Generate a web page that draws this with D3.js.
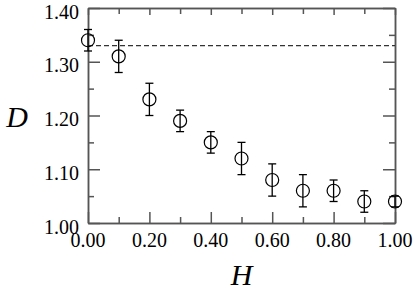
<!DOCTYPE html>
<meta charset="utf-8">
<body style="margin:0">
<script src="https://d3js.org/d3.v7.min.js"></script>
<script>
  // data
  var hValues = [0.0, 0.1, 0.2, 0.3, 0.4, 0.5, 0.6, 0.7, 0.8, 0.9, 1.0];
  var dValues = [1.34, 1.31, 1.23, 1.19, 1.15, 1.12, 1.08, 1.06, 1.06, 1.04, 1.04];
  var dErrors = [0.02, 0.03, 0.03, 0.02, 0.02, 0.03, 0.03, 0.03, 0.02, 0.02, 0.01];
  var refLevel = 1.33;
  var xTicks = [0.0, 0.2, 0.4, 0.6, 0.8, 1.0];
  var yTicks = [1.0, 1.1, 1.2, 1.3, 1.4];

  var fontName = "'Liberation Serif'";
  var fmt = d3.format(".2f");

  var margin = {top: 8, right: 20, bottom: 67, left: 88},
      width = 415 - margin.left - margin.right,
      height = 290 - margin.top - margin.bottom;

  var x = d3.scaleLinear().domain([0, 1]).range([margin.left, margin.left + width]);
  var y = d3.scaleLinear().domain([1.0, 1.4]).range([margin.top + height, margin.top]);

  var root = d3.select("body").append("svg")
      .attr("width", 415)
      .attr("height", 290);

  var xMinor = d3.range(0.1, 1.0, 0.2);
  var yMinor = d3.range(1.05, 1.4, 0.1);

  // frame ticks only; the labels are plain texts further down
  function frameAxis(axis, transform) {
    var g = root.append("g").attr("transform", transform).call(axis.tickFormat(""));
    g.selectAll("line").attr("stroke", "#555").attr("stroke-width", 1.5);
    g.select(".domain").attr("fill", "none").attr("stroke", "#555").attr("stroke-width", 1.5);
    return g;
  }
  var atBottom = "translate(0," + y(1.0) + ")", atTop = "translate(0," + y(1.4) + ")",
      atLeft = "translate(" + x(0) + ",0)", atRight = "translate(" + x(1) + ",0)";
  frameAxis(d3.axisBottom(x).tickValues(xTicks).tickSizeInner(-11).tickSizeOuter(0), atBottom);
  frameAxis(d3.axisBottom(x).tickValues(xMinor).tickSizeInner(-6).tickSizeOuter(0), atBottom);
  frameAxis(d3.axisTop(x).tickValues(xTicks).tickSizeInner(-7).tickSizeOuter(0), atTop);
  frameAxis(d3.axisTop(x).tickValues(xMinor).tickSizeInner(-6).tickSizeOuter(0), atTop);
  frameAxis(d3.axisLeft(y).tickValues(yTicks).tickSizeInner(-12).tickSizeOuter(0), atLeft);
  frameAxis(d3.axisLeft(y).tickValues(yMinor).tickSizeInner(-6).tickSizeOuter(0), atLeft);
  frameAxis(d3.axisRight(y).tickValues(yTicks).tickSizeInner(-12).tickSizeOuter(0), atRight);
  frameAxis(d3.axisRight(y).tickValues(yMinor).tickSizeInner(-6).tickSizeOuter(0), atRight);

  // dashed reference line
  root.append("line")
      .attr("x1", x(0)).attr("x2", x(1))
      .attr("y1", y(refLevel)).attr("y2", y(refLevel))
      .attr("stroke", "#333").attr("stroke-width", 1.2)
      .attr("stroke-dasharray", "5,3");

  var pts = hValues.map(function(h, i) { return {h: h, d: dValues[i], e: dErrors[i]}; });

  var bars = root.selectAll(".err").data(pts).enter().append("g")
      .attr("stroke", "#000").attr("stroke-width", 1.3);
  bars.append("line")
      .attr("x1", function(d) { return x(d.h); }).attr("x2", function(d) { return x(d.h); })
      .attr("y1", function(d) { return y(d.d + d.e); }).attr("y2", function(d) { return y(d.d - d.e); });
  bars.append("line")
      .attr("x1", function(d) { return x(d.h) - 4; }).attr("x2", function(d) { return x(d.h) + 4; })
      .attr("y1", function(d) { return y(d.d + d.e); }).attr("y2", function(d) { return y(d.d + d.e); });
  bars.append("line")
      .attr("x1", function(d) { return x(d.h) - 4; }).attr("x2", function(d) { return x(d.h) + 4; })
      .attr("y1", function(d) { return y(d.d - d.e); }).attr("y2", function(d) { return y(d.d - d.e); });

  root.selectAll(".pt").data(pts).enter().append("circle")
      .attr("cx", function(d) { return x(d.h); })
      .attr("cy", function(d) { return y(d.d); })
      .attr("r", 6.5)
      .attr("fill", "none")
      .attr("stroke", "#000").attr("stroke-width", 1.2);

  // text straight on the svg root, anchored by measuring its length
  function label(str, px, py, size, italic, anchor) {
    var t = root.append("text")
        .attr("x", px).attr("y", py)
        .attr("font-size", size)
        .style("font-family", fontName)
        .text(str);
    if (italic) t.style("font-style", "italic");
    var w = t.node().getComputedTextLength();
    if (anchor === "middle") t.attr("x", px - w / 2);
    if (anchor === "end") t.attr("x", px - w);
    return t;
  }

  xTicks.forEach(function(v) { label(fmt(v), x(v), y(1.0) + 24, 20, false, "middle"); });
  yTicks.forEach(function(v) { label(fmt(v), x(0) - 9, y(v) + 10.5, 20, false, "end"); });

  label("H", (x(0) + x(1)) / 2, y(1.0) + 62, 30, true, "middle");
  label("D", 17, y(1.2) + 11, 30, true, "middle");
</script>
</body>
